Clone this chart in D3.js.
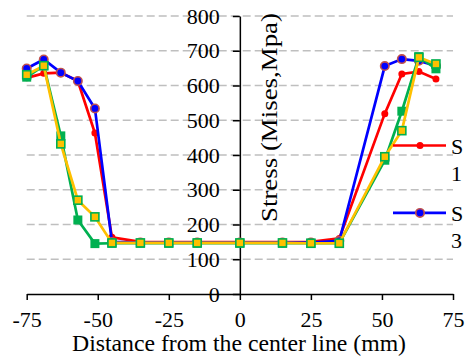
<!DOCTYPE html>
<html>
<head>
<meta charset="utf-8">
<script src="https://cdn.jsdelivr.net/npm/d3@7"></script>
<style>
  body { margin: 0; background: #fff; }
  svg { display: block; font-family: "Liberation Serif", "Times New Roman", serif; }
</style>
</head>
<body>
<svg id="chart" width="465" height="358"></svg>
<script>
// distance from the center line (mm)
const distance = [-75, -69, -63, -57, -51, -45, -35, -25, -15, 0, 15, 25, 35, 51, 57, 63, 69];
const s1 = [622, 635, 637, 613, 463, 163, 150, 149, 149, 149, 149, 150, 160, 519, 633, 640, 619];
const s3 = [649, 675, 637, 613, 534, 150, 148, 148, 148, 148, 148, 148, 153, 656, 676, 671, 657];
const s2 = [624, 657, 455, 213, 145, 146, 146, 146, 146, 146, 146, 146, 146, 385, 526, 683, 648];
const s4 = [631, 657, 432, 270, 222, 147, 147, 147, 147, 147, 147, 146, 146, 395, 470, 681, 662];
const xTicks = [-75, -50, -25, 0, 25, 50, 75];
const yTicks = [0, 100, 200, 300, 400, 500, 600, 700, 800];

const svg = d3.select("#chart");
const x = d3.scaleLinear().domain([-75, 75]).range([26.7, 453]);
const y = d3.scaleLinear().domain([0, 800]).range([294, 16]);

// dashed grid
svg.append("g").selectAll("line")
  .data(yTicks.filter(d => d > 0))
  .enter().append("line")
  .attr("x1", x(-75)).attr("x2", x(75))
  .attr("y1", d => y(d)).attr("y2", d => y(d))
  .attr("stroke", "#bfbfbf").attr("stroke-width", 1.5)
  .attr("stroke-dasharray", "8,4");

// axes
const xAxis = svg.append("g")
  .attr("transform", "translate(0," + y(0) + ")")
  .call(d3.axisBottom(x).tickValues(xTicks).tickFormat(d => String(d))
    .tickSize(6).tickSizeOuter(0).tickPadding(11));
const yAxis = svg.append("g")
  .attr("transform", "translate(" + x(0) + ",0)")
  .call(d3.axisLeft(y).tickValues(yTicks).tickFormat(d => String(d))
    .tickSize(7).tickSizeOuter(0).tickPadding(13));
[xAxis, yAxis].forEach(a => {
  a.selectAll("path, line").attr("stroke", "#000").attr("stroke-width", 1.5);
  a.selectAll("text").attr("fill", "#000").style("font-size", "22px")
    .style("font-family", "'Liberation Serif', 'Times New Roman', serif");
});

const series = [
  {name: "1", vals: s1, color: "#ff0000", marker: "dot"},
  {name: "3", vals: s3, color: "#0000ff", marker: "circle"},
  {name: "2", vals: s2, color: "#00b050", marker: "square"},
  {name: "4", vals: s4, color: "#ffc000", marker: "ysquare"}
];

const line = d3.line().x(d => x(d[0])).y(d => y(d[1]));

function drawMarker(g, m, px, py) {
  if (m === "dot") {
    g.append("circle").attr("cx", px).attr("cy", py).attr("r", 3.5).attr("fill", "#ff0000");
  } else if (m === "circle") {
    g.append("circle").attr("cx", px).attr("cy", py).attr("r", 4.2)
      .attr("fill", "#0000ff").attr("stroke", "#c0504d").attr("stroke-width", 1.6);
  } else if (m === "square") {
    g.append("rect").attr("x", px - 4.5).attr("y", py - 4.5).attr("width", 9).attr("height", 9)
      .attr("fill", "#00b050");
  } else {
    g.append("rect").attr("x", px - 4).attr("y", py - 4).attr("width", 8).attr("height", 8)
      .attr("fill", "#ffc000").attr("stroke", "#00b050").attr("stroke-width", 1.6);
  }
}

series.forEach(s => {
  const pts = distance.map((d, i) => [d, s.vals[i]]);
  const g = svg.append("g");
  g.append("path").attr("d", line(pts)).attr("fill", "none")
    .attr("stroke", s.color).attr("stroke-width", 2.7);
  pts.forEach(p => drawMarker(g, s.marker, x(p[0]), y(p[1])));
});

// axis titles
svg.append("text")
  .attr("x", 72).attr("y", 351)
  .attr("textLength", 334).attr("lengthAdjust", "spacingAndGlyphs")
  .style("font-size", "23.5px").attr("fill", "#000")
  .text("Distance from the center line (mm)");
svg.append("text")
  .attr("transform", "translate(277,222) rotate(-90)")
  .attr("textLength", 209).attr("lengthAdjust", "spacingAndGlyphs")
  .style("font-size", "23px").attr("fill", "#000")
  .text("Stress (Mises,Mpa)");

// legend (wrapped labels, partly outside the frame)
const legend = [series[0], series[1]];
legend.forEach((s, i) => {
  const ly = 145.5 + i * 67.4;
  const g = svg.append("g");
  g.append("line").attr("x1", 393).attr("x2", 446).attr("y1", ly).attr("y2", ly)
    .attr("stroke", s.color).attr("stroke-width", 2.7);
  drawMarker(g, s.marker, 420, ly);
  const t = g.append("text").attr("x", 451).attr("y", ly + 8).style("font-size", "22px").attr("fill", "#000");
  t.append("tspan").attr("x", 451).text("S");
  t.append("tspan").attr("x", 451).attr("dy", 27).text(s.name);
});
</script>
</body>
</html>
